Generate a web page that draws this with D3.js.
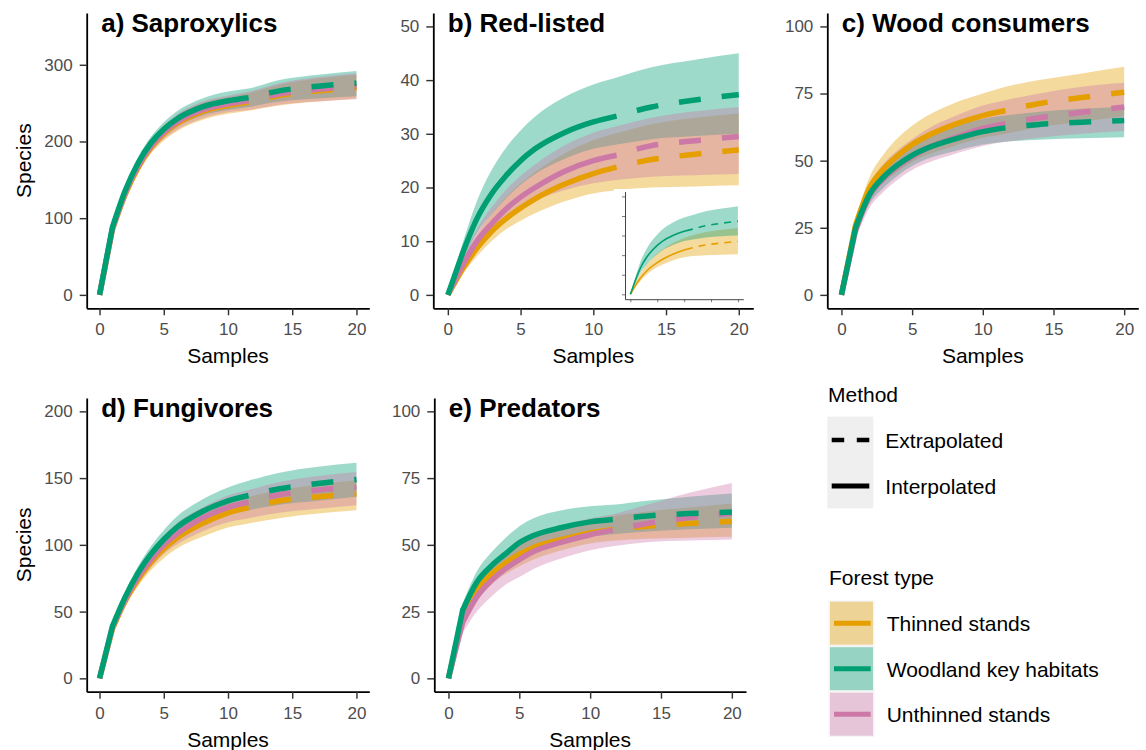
<!DOCTYPE html>
<html>
<head>
<meta charset="utf-8">
<script src="https://cdn.jsdelivr.net/npm/d3@7"></script>
<style>
  body { margin: 0; background: #fff; }
  svg { display: block; font-family: "Liberation Sans", Arial, sans-serif; }
</style>
</head>
<body>
<svg id="chart" width="1146" height="750"></svg>
<script>
// sample sizes (interpolated up to the observed 11.6, extrapolated after)
var samples = [0, 1, 2, 3, 4, 5, 6, 8, 10, 11.6, 14, 17, 20];
var obsIndex = 9;
var xTicks = [0, 5, 10, 15, 20];

var forestTypes = ["Thinned stands", "Woodland key habitats", "Unthinned stands"];
var typeColors = ["#E69F00", "#009E73", "#CC79A7"];
var methods = ["Extrapolated", "Interpolated"];

// a) Saproxylics
var aThinEst = [0, 85, 131, 166, 192, 210, 223, 239, 247, 251, 260, 266, 270];
var aThinLo  = [0, 81, 125, 159, 184, 201, 213, 228, 236, 240, 247, 252, 256];
var aThinHi  = [0, 89, 137, 173, 200, 219, 233, 250, 258, 263, 274, 282, 287];
var aWoodEst = [0, 88, 136, 172, 198, 216, 229, 245, 253, 257, 266, 272, 276];
var aWoodLo  = [0, 84, 130, 165, 190, 207, 219, 234, 241, 245, 252, 256, 259];
var aWoodHi  = [0, 92, 142, 179, 206, 225, 239, 256, 265, 269, 280, 287, 292];
var aUnthEst = [0, 86, 133, 168, 194, 212, 225, 241, 249, 253, 262, 268, 272];
var aUnthLo  = [0, 82, 127, 161, 186, 203, 215, 230, 238, 241, 248, 252, 255];
var aUnthHi  = [0, 90, 139, 175, 202, 221, 235, 252, 260, 265, 276, 284, 289];

// b) Red-listed
var bThinEst = [0, 4.8, 8.7, 11.8, 14.2, 16.2, 17.9, 20.6, 22.6, 23.8, 25.2, 26.2, 27];
var bThinLo  = [0, 3.8, 7.2, 10, 12.2, 13.8, 15.2, 17.4, 18.9, 19.5, 20, 20.2, 20.4];
var bThinHi  = [0, 6.2, 11.2, 15.1, 18.2, 20.8, 22.9, 26.3, 28.8, 30.1, 31.8, 33, 33.8];
var bWoodEst = [0, 7.7, 14.2, 18.8, 22.2, 25, 27.2, 30.2, 32.2, 33.3, 35, 36.3, 37.3];
var bWoodLo  = [0, 6, 11.5, 15, 18, 20.5, 22.5, 25.3, 27.2, 28, 29, 29.6, 30];
var bWoodHi  = [0, 9.5, 17.5, 23.2, 27.4, 30.6, 33.2, 36.8, 39.2, 40.5, 42.4, 43.8, 45];
var bUnthEst = [0, 5.5, 10, 13.2, 16, 18.2, 20, 23, 25, 26, 27.8, 28.7, 29.5];
var bUnthLo  = [0, 4.5, 8.5, 11.5, 14, 16, 17.5, 19.5, 20.8, 21.4, 22, 22.3, 22.5];
var bUnthHi  = [0, 6.8, 12.3, 16.3, 19.6, 22.2, 24.3, 27.8, 30.2, 31.4, 33, 34.2, 35];

// c) Wood consumers
var cThinEst = [0, 26, 40, 47, 52, 56, 59, 63.5, 66.8, 68.7, 71.3, 73.5, 75.5];
var cThinLo  = [0, 24, 36, 42, 46, 49.5, 52, 55.5, 58.5, 60, 62.5, 64.5, 66.5];
var cThinHi  = [0, 28, 44, 52.5, 58.5, 63, 66.5, 71.5, 75, 77.5, 80, 82.5, 85];
var cWoodEst = [0, 25, 37.5, 44, 48.5, 52, 54.5, 58, 60.8, 62.2, 63.5, 64.3, 65];
var cWoodLo  = [0, 23, 34, 40, 44.5, 48, 50.5, 53.5, 56, 57, 57.8, 58.3, 58.7];
var cWoodHi  = [0, 27, 41, 48, 53, 56.5, 59, 63, 65.5, 66.8, 68.2, 69.3, 70.2];
var cUnthEst = [0, 24, 37, 43.5, 48, 51.5, 54.5, 58.5, 62, 63.8, 66, 68, 70];
var cUnthLo  = [0, 21, 32.5, 38.5, 43, 46.5, 49, 52.5, 55.5, 57, 58.5, 60, 61];
var cUnthHi  = [0, 26, 41, 49, 54, 58, 61.5, 66.5, 70.5, 72.5, 75, 77.5, 79];

// d) Fungivores
var dThinEst = [0, 37, 58, 74, 87, 97, 105, 116, 124, 128, 133, 136, 138];
var dThinLo  = [0, 35, 54, 69, 81, 90, 97, 106, 113, 116, 120, 123.5, 126];
var dThinHi  = [0, 39, 62, 79, 93, 104, 112, 124, 132, 136, 141, 145, 148.3];
var dWoodEst = [0, 39, 61, 79, 93, 104, 113, 125, 133, 137, 142, 146, 149];
var dWoodLo  = [0, 37, 57, 74, 87, 97, 105, 116, 123, 126, 130, 133, 136];
var dWoodHi  = [0, 41, 65, 84, 99, 111, 121, 134, 143, 148, 154, 158.5, 161.5];
var dUnthEst = [0, 38, 59, 76, 89, 100, 108, 120, 128, 132, 137.5, 141, 143];
var dUnthLo  = [0, 36, 55, 71, 83, 93, 100, 110, 117, 120, 124, 127, 129.7];
var dUnthHi  = [0, 40, 63, 81, 95, 107, 116, 128, 137, 141, 147, 151.5, 154.5];

// e) Predators
var eThinEst = [0, 23, 33, 39, 43, 46.5, 49, 52, 54.5, 55.8, 57, 58, 58.8];
var eThinLo  = [0, 20, 29, 35, 39, 42, 44.5, 48, 50.5, 51.5, 52.3, 52.7, 53];
var eThinHi  = [0, 26, 37, 43, 47.5, 51, 53.5, 57, 59.5, 60.8, 62.5, 64, 65.5];
var eWoodEst = [0, 25.5, 36, 42, 46.5, 50.8, 53.5, 56.5, 58.6, 59.5, 60.8, 61.7, 62.3];
var eWoodLo  = [0, 23, 32, 38, 42, 45, 47.5, 50.5, 53, 54, 55, 55.8, 56.4];
var eWoodHi  = [0, 28, 40, 47, 52.5, 57, 60, 63, 64.5, 65, 66.5, 68, 69.2];
var eUnthEst = [0, 21, 30.5, 36.5, 41, 44.5, 47.5, 51, 53.8, 55.5, 58, 60.2, 61.8];
var eUnthLo  = [0, 17, 25, 30.5, 35, 38, 41, 45, 48, 49.5, 51, 51.6, 52];
var eUnthHi  = [0, 24, 34.5, 41, 46, 50, 53, 57, 60, 61.5, 65, 69.5, 73.2];

var svg = d3.select("#chart");
var ribbonAlpha = 0.38;

// layout of the five panels
var panels = [
  {title: "a) Saproxylics", yMax: 350, yTicks: [0, 100, 200, 300], left: 86.7, right: 369.3, top: 13, bottom: 308.3, species: true,
   series: [[aThinEst, aThinLo, aThinHi], [aWoodEst, aWoodLo, aWoodHi], [aUnthEst, aUnthLo, aUnthHi]]},
  {title: "b) Red-listed", yMax: 50, yTicks: [0, 10, 20, 30, 40, 50], left: 433.3, right: 753.3, top: 13, bottom: 308.3,
   series: [[bThinEst, bThinLo, bThinHi], [bWoodEst, bWoodLo, bWoodHi], [bUnthEst, bUnthLo, bUnthHi]], inset: true},
  {title: "c) Wood consumers", yMax: 100, yTicks: [0, 25, 50, 75, 100], left: 827.3, right: 1138.3, top: 13, bottom: 308.3,
   series: [[cThinEst, cThinLo, cThinHi], [cWoodEst, cWoodLo, cWoodHi], [cUnthEst, cUnthLo, cUnthHi]]},
  {title: "d) Fungivores", yMax: 200, yTicks: [0, 50, 100, 150, 200], left: 86.7, right: 369.3, top: 398, bottom: 691.7, species: true,
   series: [[dThinEst, dThinLo, dThinHi], [dWoodEst, dWoodLo, dWoodHi], [dUnthEst, dUnthLo, dUnthHi]]},
  {title: "e) Predators", yMax: 100, yTicks: [0, 25, 50, 75, 100], left: 434.3, right: 746, top: 398, bottom: 691.7,
   series: [[eThinEst, eThinLo, eThinHi], [eWoodEst, eWoodLo, eWoodHi], [eUnthEst, eUnthLo, eUnthHi]]}
];

// first segment (0 -> 1 sample) is straight, the rest smoothed
function curveLine(x, y, idx, fromZero) {
  var pts = idx.map(i => [x(samples[i]), y(i)]);
  if (!fromZero) return d3.line().curve(d3.curveMonotoneX)(pts);
  var rest = d3.line().curve(d3.curveMonotoneX)(pts.slice(1));
  return "M" + pts[0] + "L" + rest.slice(1);
}

function ribbonPath(x, y, lo, hi) {
  var idx = d3.range(samples.length);
  var first = d3.area().x(i => x(samples[i])).y0(i => y(lo[i])).y1(i => y(hi[i]))([0, 1]);
  var rest = d3.area().curve(d3.curveMonotoneX)
    .x(i => x(samples[i])).y0(i => y(lo[i])).y1(i => y(hi[i]))(idx.slice(1));
  return first + rest;
}

function drawCurves(g, x, y, series, which, lw, dash) {
  var interp = d3.range(0, obsIndex + 1);
  var extrap = d3.range(obsIndex, samples.length);
  // ribbons in factor order
  which.forEach(function(k) {
    g.append("path")
      .attr("d", ribbonPath(x, y, series[k][1], series[k][2]))
      .attr("fill", typeColors[k])
      .attr("fill-opacity", ribbonAlpha);
  });
  // lines: thinned, unthinned, then woodland on top
  var lineOrder = [0, 2, 1].filter(k => which.indexOf(k) >= 0);
  lineOrder.forEach(function(k) {
    var est = series[k][0];
    g.append("path")
      .attr("d", curveLine(x, i => y(est[i]), interp, true))
      .attr("fill", "none").attr("stroke", typeColors[k])
      .attr("stroke-width", lw).attr("stroke-linejoin", "round");
    g.append("path")
      .attr("d", curveLine(x, i => y(est[i]), extrap, false))
      .attr("fill", "none").attr("stroke", typeColors[k])
      .attr("stroke-width", lw)
      .attr("stroke-dasharray", dash[0] + "," + dash[1])
      .attr("stroke-dashoffset", dash[0]);
  });
}

function styleAxis(ax, lw, tickColor, fontSize) {
  ax.select(".domain").attr("stroke", "#000").attr("stroke-width", lw);
  ax.selectAll(".tick line").attr("stroke", tickColor).attr("stroke-width", lw * 0.8);
  ax.selectAll(".tick text").attr("fill", "#4d4d4d").attr("font-size", fontSize)
    .attr("font-family", "Liberation Sans, Arial, sans-serif");
}

panels.forEach(function(p) {
  var pad = p.yMax * 0.05;
  var x = d3.scaleLinear().domain([-1, 21]).range([p.left, p.right]);
  var y = d3.scaleLinear().domain([-pad, p.yMax + pad]).range([p.bottom, p.top]);
  var g = svg.append("g");

  drawCurves(g, x, y, p.series, [0, 1, 2], 5.5, [22, 21]);

  if (p.inset) {
    // small copy with woodland key habitats and thinned stands only
    var ig = g.append("g");
    ig.append("rect").attr("x", 614).attr("y", 189).attr("width", 136).attr("height", 116).attr("fill", "#fff");
    var ix = d3.scaleLinear().domain([-1, 21]).range([625, 743.3]);
    var iy = d3.scaleLinear().domain([-2.5, 52.5]).range([299.2, 191.5]);
    drawCurves(ig, ix, iy, p.series, [0, 1], 1.6, [7, 6]);
    var ixAx = ig.append("g").attr("transform", "translate(0,299.2)")
      .call(d3.axisBottom(ix).tickValues(xTicks).tickSize(3).tickSizeOuter(0).tickFormat(""));
    var iyAx = ig.append("g").attr("transform", "translate(625,0)")
      .call(d3.axisLeft(iy).tickValues([0, 10, 20, 30, 40, 50]).tickSize(3).tickSizeOuter(0).tickFormat(""));
    [ixAx, iyAx].forEach(function(a) {
      a.select(".domain").attr("stroke", "#444").attr("stroke-width", 1);
      a.selectAll(".tick line").attr("stroke", "#555").attr("stroke-width", 0.8);
    });
  }

  var xAx = g.append("g").attr("transform", "translate(0," + p.bottom + ")")
    .call(d3.axisBottom(x).tickValues(xTicks).tickSize(7).tickPadding(8).tickSizeOuter(0));
  styleAxis(xAx, 1.8, "#333", 17);
  var yAx = g.append("g").attr("transform", "translate(" + p.left + ",0)")
    .call(d3.axisLeft(y).tickValues(p.yTicks).tickSize(7).tickPadding(7).tickSizeOuter(0));
  styleAxis(yAx, 1.8, "#333", 17);

  g.append("text")
    .attr("x", p.left + 14.5).attr("y", p.top + 19)
    .attr("font-size", 26).attr("font-weight", "bold").attr("fill", "#000")
    .text(p.title);

  g.append("text")
    .attr("x", (x(0) + x(20)) / 2).attr("y", p.bottom + 55)
    .attr("text-anchor", "middle").attr("font-size", 21).attr("fill", "#000")
    .text("Samples");

  if (p.species) {
    g.append("text")
      .attr("transform", "translate(31," + ((p.top + p.bottom) / 2) + ") rotate(-90)")
      .attr("text-anchor", "middle").attr("font-size", 21).attr("fill", "#000")
      .text("Species");
  }
});

// legends
var leg = svg.append("g");
leg.append("text").attr("x", 828).attr("y", 402).attr("font-size", 21).text("Method");
leg.append("rect").attr("x", 827.3).attr("y", 416.7).attr("width", 46).attr("height", 91.6).attr("fill", "#efefef");
methods.forEach(function(m, i) {
  var cy = 440 + i * 46;
  leg.append("line")
    .attr("x1", 831.7).attr("x2", 869.3).attr("y1", cy).attr("y2", cy)
    .attr("stroke", "#000").attr("stroke-width", i === 0 ? 4.3 : 5)
    .attr("stroke-dasharray", i === 0 ? "12.5,12.6" : null);
  leg.append("text").attr("x", 885.3).attr("y", cy + 7.5).attr("font-size", 21).text(m);
});

leg.append("text").attr("x", 829).attr("y", 585).attr("font-size", 21).text("Forest type");
forestTypes.forEach(function(f, i) {
  var top = 600.5 + i * 45.5;
  leg.append("rect").attr("x", 828.5).attr("y", top).attr("width", 46).attr("height", 45.5).attr("fill", "#f4f4f4");
  leg.append("rect").attr("x", 830).attr("y", top + 1.2).attr("width", 43).attr("height", 43)
    .attr("fill", typeColors[i]).attr("fill-opacity", ribbonAlpha);
  leg.append("line")
    .attr("x1", 834).attr("x2", 870.7).attr("y1", top + 22.8).attr("y2", top + 22.8)
    .attr("stroke", typeColors[i]).attr("stroke-width", 5);
  leg.append("text").attr("x", 886.7).attr("y", top + 30.5).attr("font-size", 21).text(f);
});
</script>
</body>
</html>
